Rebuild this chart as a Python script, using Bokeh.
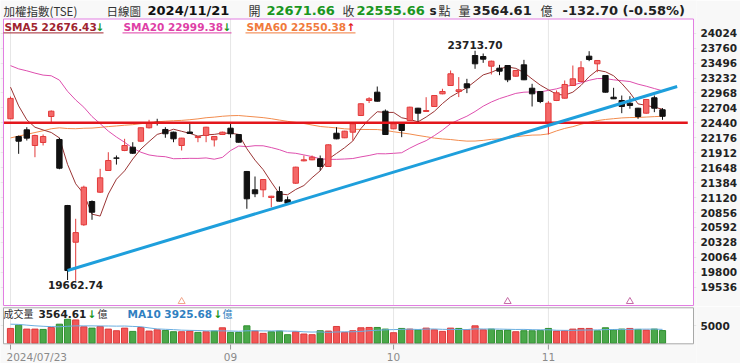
import numpy as np
import pandas as pd
from bokeh.plotting import figure
from bokeh.layouts import column
from bokeh.models import Range1d, FixedTicker, LinearAxis, Label, ColumnDataSource
from bokeh.embed import file_html
from bokeh.resources import INLINE

# ---------------- data ----------------
opens = [22512, 22199, 22317, 22040, 22093, 22552, 22146, 20980, 20331, 20639,
         21050, 21215, 21598, 21820, 21952, 22010, 22116, 22353, 22450, 22323,
         22275, 22040, 22278, 22180, 22217, 22140, 22234, 22346, 22234, 21581,
         21257, 21257, 21121, 21227, 21080, 21374, 21769, 21787, 21805, 21669,
         22257, 22176, 22275, 22570, 22835, 22982, 22646, 22335, 22423, 22482,
         22699, 22641, 22729, 22953, 23100, 22994, 23130, 23630, 23612, 23441,
         23406, 23453, 23264, 23465, 23052, 22994, 22434, 22835, 22876, 23100,
         23171, 23618, 23483, 23277, 22893, 22835, 22787, 22699, 22611, 22883,
         22671.66]
highs = [22905, 22215, 22363, 22230, 22234, 22660, 22176, 20990, 20745, 21330,
         21070, 21628, 21921, 21863, 22158, 22098, 22360, 22494, 22512, 22363,
         22285, 22175, 22423, 22205, 22370, 22205, 22285, 22423, 22240, 21590,
         21492, 21445, 21150, 21316, 21139, 21665, 21863, 21863, 21863, 22060,
         22363, 22300, 22430, 22785, 22893, 23082, 22676, 22430, 22430, 22725,
         22705, 22893, 22930, 23042, 23365, 23248, 23218, 23713.70, 23665, 23540,
         23465, 23460, 23375, 23553, 23130, 23000, 22823, 23012, 23189, 23453,
         23530, 23706, 23550, 23285, 23059, 22923, 22911, 22705, 22860, 22923,
         22700]
lows = [22505, 21893, 22128, 21833, 22040, 22452, 21620, 19662.74, 19650, 20620,
        20727, 21200, 21590, 21703, 21940, 21890, 22100, 22340, 22393, 22176,
        22098, 21952, 22245, 22098, 22098, 22022, 22225, 22176, 22090, 20922,
        21127, 21127, 20950, 21050, 21000, 21360, 21760, 21780, 21598, 21660,
        22150, 22170, 22130, 22560, 22790, 22815, 22225, 22330, 22187, 22475,
        22452, 22635, 22720, 22945, 23095, 22895, 22965, 23395, 23500, 23294,
        23282, 23159, 23255, 23195, 22729, 22788, 22234, 22825, 22870, 23095,
        23165, 23530, 23335, 22975, 22860, 22611, 22690, 22511, 22600, 22629,
        22494]
closes = [22872, 22116, 22170, 22217, 22199, 22646, 21639, 19830.88, 20501, 21303,
          20861, 21469, 21775, 21815, 22040, 21904, 22353, 22434, 22446, 22247,
          22158, 22170, 22252, 22198, 22363, 22199, 22275, 22247, 22098, 21098,
          21187, 21439, 21144, 21056, 21020, 21657, 21787, 21833, 21669, 22052,
          22158, 22293, 22423, 22777, 22865, 22823, 22234, 22423, 22305, 22717,
          22611, 22658, 22923, 22994, 23307, 23024, 23059, 23483, 23565, 23529,
          23353, 23201, 23365, 23201, 22953, 22817, 22787, 22971, 23118, 23218,
          23413, 23559, 23542, 22982, 22865, 22729, 22747, 22552, 22853, 22699,
          22555.66]
volumes = [4167, 5093, 3982, 3982, 3889, 4444, 5370, 6760, 6575, 4630,
           4260, 4722, 3982, 3519, 4260, 3333, 4444, 3426, 3797, 3611,
           3241, 3241, 3426, 3056, 3241, 3426, 4352, 3056, 3056, 4907,
           3426, 2778, 3241, 3426, 2407, 3241, 2593, 2407, 3519, 3426,
           4722, 3056, 3519, 4352, 4444, 4444, 3982, 2963, 4167, 3982,
           3797, 4260, 3797, 3333, 4260, 4167, 3797, 4907, 3797, 3982,
           3611, 3704, 3241, 3519, 3519, 3611, 4167, 3426, 3519, 3982,
           4167, 4167, 3519, 4352, 3797, 3982, 4167, 3889, 3704, 3982,
           3564.61]
# sessions before 2024/07/23 (only used for the moving averages)
prior_closes = [20150, 20397, 20222, 20330, 20522, 20658, 20590, 20702, 20778, 20700,
                20720, 20912, 21182, 21258, 21300, 21290, 21450, 21480, 21600, 21640,
                21820, 21540, 21300, 21174,
                21536, 21356, 21670, 21900, 21860, 21900, 22200, 22280, 22500, 22380,
                22750, 23000, 23400, 23250, 22800, 22900, 23260, 22860, 23032,
                22900, 22880, 23170, 23790, 23560, 23878, 24134, 24000, 24390, 23916,
                23900, 24000, 23770, 23400, 22870, 22440]
prior_volumes = [5600, 6100, 5900, 5200, 5500, 5700, 5400, 5300, 4800]

price_ticks = [24024, 23760, 23496, 23232, 22968, 22704, 22440, 22176, 21912,
               21648, 21384, 21120, 20856, 20592, 20328, 20064, 19800, 19536]
vol_ticks = [5000]
month_idx = [0, 27, 47, 66]
month_labels = ["2024/07/23", "09", "10", "11"]
support_level = 22440
support_x = [-0.86, 83.1]
trend_x = [7, 81.8]
trend_y = [19830.88, 23082]
marker_idx = [21, 61, 76]
marker_colors = ["#f2a48a", "#c66aa6", "#c66aa6"]
high_idx, high_val = 57, 23713.70
low_idx, low_val = 7, 19662.74

# ---------------- derived ----------------
n = len(closes)
idx = np.arange(n)
o = np.array(opens); c = np.array(closes)
up = c >= o
allc = pd.Series(prior_closes + closes, dtype=float)
k = len(prior_closes)
sma5 = allc.rolling(5).mean().iloc[k:].values
sma20 = allc.rolling(20).mean().iloc[k:].values
sma60 = allc.rolling(60).mean().iloc[k:].values
allv = pd.Series(prior_volumes + volumes, dtype=float)
vma10 = allv.rolling(10).mean().iloc[len(prior_volumes):].values
prevc = np.array([prior_closes[-1]] + closes[:-1])
vup = c >= prevc

UP_FILL, UP_LINE, DN = "#f46868", "#e23a3a", "#111111"
GREEN = "#1a961e"
BG = "#f8f8f8"
GRID = "#e6e6e6"
W = 740
CJK = "Noto Sans CJK TC"
DJ = "DejaVu Sans"
FRAME_W = 696                # plot-area width (both panels)
H_MAIN, H_VOL = 306, 57


def i_at(xr):                # page x -> candle index units
    return (xr - 10) / 8.15


def price_at(yr):            # page y -> price units (main panel scale)
    return 24024 - (yr - 32.7) * 17.668


def vol_at(yr):              # page y -> volume units (volume panel scale)
    return (342.7 - yr) / 17.7 * 5000


X0, X1 = i_at(0), i_at(FRAME_W)


def base_fig(h, xr, yr):
    f = figure(width=W, height=h, x_range=xr, y_range=yr, output_backend="svg",
               toolbar_location=None, x_axis_location=None, y_axis_location=None,
               min_border_left=0, min_border_right=W - FRAME_W,
               min_border_top=0, min_border_bottom=0)
    f.border_fill_color = BG
    f.background_fill_color = BG
    f.outline_line_color = None
    return f


def add_text(fig, y_bottom, xr, yr, text, color, size, bold, font):
    fig.add_layout(Label(x=xr, y=y_bottom - yr, x_units="screen", y_units="screen",
                         text=text, text_color=color, text_font_size=size, text_font=font,
                         text_font_style="bold" if bold else "normal",
                         text_baseline="middle", text_align="left"))


def right_axis(ticks):
    return LinearAxis(ticker=FixedTicker(ticks=ticks), axis_line_color=None,
                      major_tick_line_color=None, minor_tick_line_color=None,
                      major_tick_out=0, major_tick_in=0, major_label_standoff=4,
                      major_label_text_font=DJ, major_label_text_font_style="bold",
                      major_label_text_font_size="10.5px", major_label_text_color="#222222")


# ---------------- main panel (with header row) ----------------
p = base_fig(H_MAIN, Range1d(X0, X1), Range1d(price_at(H_MAIN), price_at(0)))
pl, pr = i_at(3), i_at(693)
pt, pb = price_at(18.5), price_at(305)
p.quad(left=[pl], right=[pr], top=[pt], bottom=[pb], fill_color="white", line_color=None)
p.xgrid.visible = False
p.ygrid.ticker = FixedTicker(ticks=price_ticks)
p.ygrid.grid_line_color = GRID
p.segment(x0=month_idx, x1=month_idx, y0=[pb] * 4, y1=[pt] * 4, line_color=GRID, line_width=1)
p.add_layout(right_axis(price_ticks), "right")

p.line(idx, sma60, color="#f28c4e", line_width=1)
p.line(idx, sma20, color="#de4fae", line_width=1)
p.line(idx, sma5, color="#9a3434", line_width=1)

src = ColumnDataSource(dict(
    x=idx, h=highs, l=lows,
    top=np.maximum(o, c), bottom=np.minimum(o, c),
    fill=[UP_FILL if u else DN for u in up],
    line=[UP_LINE if u else DN for u in up]))
p.segment(x0="x", y0="h", x1="x", y1="l", line_color="line", line_width=1, source=src)
p.vbar(x="x", width=0.66, top="top", bottom="bottom", fill_color="fill",
       line_color="line", line_width=1, source=src)

p.line(support_x, [support_level] * 2, color="#e3161c", line_width=2.5)
p.line(trend_x, trend_y, color="#1e9fdc", line_width=3)

p.scatter(marker_idx, [price_at(301)] * len(marker_idx), marker="triangle", size=7,
          fill_alpha=0, line_color=marker_colors, line_width=1)

p.add_layout(Label(x=high_idx, y=high_val, text=f"{high_val:.2f}", text_align="center",
                   text_baseline="bottom", y_offset=2, text_font=DJ,
                   text_font_style="bold", text_font_size="10.5px", text_color="#222222"))
p.add_layout(Label(x=low_idx, y=low_val, text=f"{low_val:.2f}", text_align="center",
                   text_baseline="top", x_offset=8, y_offset=-1, text_font=DJ,
                   text_font_style="bold", text_font_size="10.5px", text_color="#222222"))

# panel border on top of everything
p.quad(left=[pl], right=[pr], top=[pt], bottom=[pb], fill_color=None,
       line_color="#e27ee2", line_width=1)

header = [
    (3, "加權指數(TSE)", "#333333", "11.5px", False, CJK),
    (106, "日線圖", "#333333", "11.5px", False, CJK),
    (147, "2024/11/21", "#111111", "13px", True, DJ),
    (248, "開", "#333333", "12px", False, CJK),
    (266, "22671.66", GREEN, "13px", True, DJ),
    (342, "收", "#333333", "12px", False, CJK),
    (356, "22555.66", GREEN, "13px", True, DJ),
    (429, "s", "#222222", "12px", True, DJ),
    (438, "點", "#333333", "12px", False, CJK),
    (458, "量", "#333333", "12px", False, CJK),
    (472, "3564.61", "#222222", "13px", True, DJ),
    (540, "億", "#333333", "12px", False, CJK),
    (562, "-132.70 (-0.58%)", "#222222", "13px", True, DJ),
]
for xr, t, col, sz, b, f in header:
    add_text(p, H_MAIN, xr, 10, t, col, sz, b, f)

legend = [
    (3, "SMA5 22676.43", "#a0242f", 95, "↓", GREEN, 103),
    (122, "SMA20 22999.38", "#de3fa6", 222, "↓", GREEN, 231),
    (245, "SMA60 22550.38", "#f07a3c", 346, "↑", "#e3161c", 355),
]
for xr, t, col, ax, arr, acol, xe in legend:
    add_text(p, H_MAIN, xr + 1, 26.5, t, col, "10.5px", True, DJ)
    add_text(p, H_MAIN, ax, 26.5, arr, acol, "10.5px", True, DJ)
    p.line([i_at(xr), i_at(xe)], [price_at(32.4)] * 2, color=col, line_width=1)

# ---------------- volume panel (with date row) ----------------
v = base_fig(H_VOL, p.x_range, Range1d(vol_at(H_MAIN + H_VOL), vol_at(H_MAIN)))
vt, vb = vol_at(307.3), vol_at(343.3)
v.quad(left=[pl], right=[pr], top=[vt], bottom=[vb], fill_color="white", line_color=None)
v.xgrid.visible = False
v.ygrid.ticker = FixedTicker(ticks=vol_ticks)
v.ygrid.grid_line_color = GRID
v.segment(x0=month_idx, x1=month_idx, y0=[vb] * 4, y1=[vt] * 4, line_color=GRID, line_width=1)
v.add_layout(right_axis(vol_ticks), "right")

vsrc = ColumnDataSource(dict(
    x=idx, vol=volumes,
    fill=["#f25656" if u else "#4aa84a" for u in vup],
    line=["#dc3b3b" if u else "#2f8f2f" for u in vup]))
v.vbar(x="x", width=0.76, top="vol", bottom=0, fill_color="fill", line_color="line",
       line_width=1, source=vsrc)
v.line(idx, vma10, color="#6aaee0", line_width=1)
v.quad(left=[pl], right=[pr], top=[vt], bottom=[vb], fill_color=None,
       line_color="#a8a8a8", line_width=1)

# date ticks and labels
v.segment(x0=month_idx, x1=month_idx, y0=[vol_at(344)] * 4, y1=[vol_at(349)] * 4,
          line_color="#999999", line_width=1)
for i, t in zip(month_idx, month_labels):
    first = i == month_idx[0]
    v.add_layout(Label(x=i, y=vol_at(356.5), text=t,
                       text_align="left" if first else "center", x_offset=-4 if first else 0,
                       text_baseline="middle", text_font=DJ,
                       text_font_size="10.5px", text_color="#8a8a8a"))

vleg = [
    (3, "成交量", "#333333", "10px", False, CJK),
    (38, "3564.61", "#222222", "10.5px", True, DJ),
    (87, "↓", GREEN, "10.5px", True, DJ),
    (97, "億", "#333333", "10px", False, CJK),
    (127, "MA10 3925.68", "#2f7fc1", "10.5px", True, DJ),
    (213, "↓", GREEN, "10.5px", True, DJ),
    (222, "億", "#2f7fc1", "10px", False, CJK),
]
for xr, t, col, sz, b, f in vleg:
    add_text(v, H_MAIN + H_VOL, xr, 313.3, t, col, sz, b, f)

layout = column(p, v, spacing=0)
open("out.html", "w").write(file_html(layout, INLINE))
